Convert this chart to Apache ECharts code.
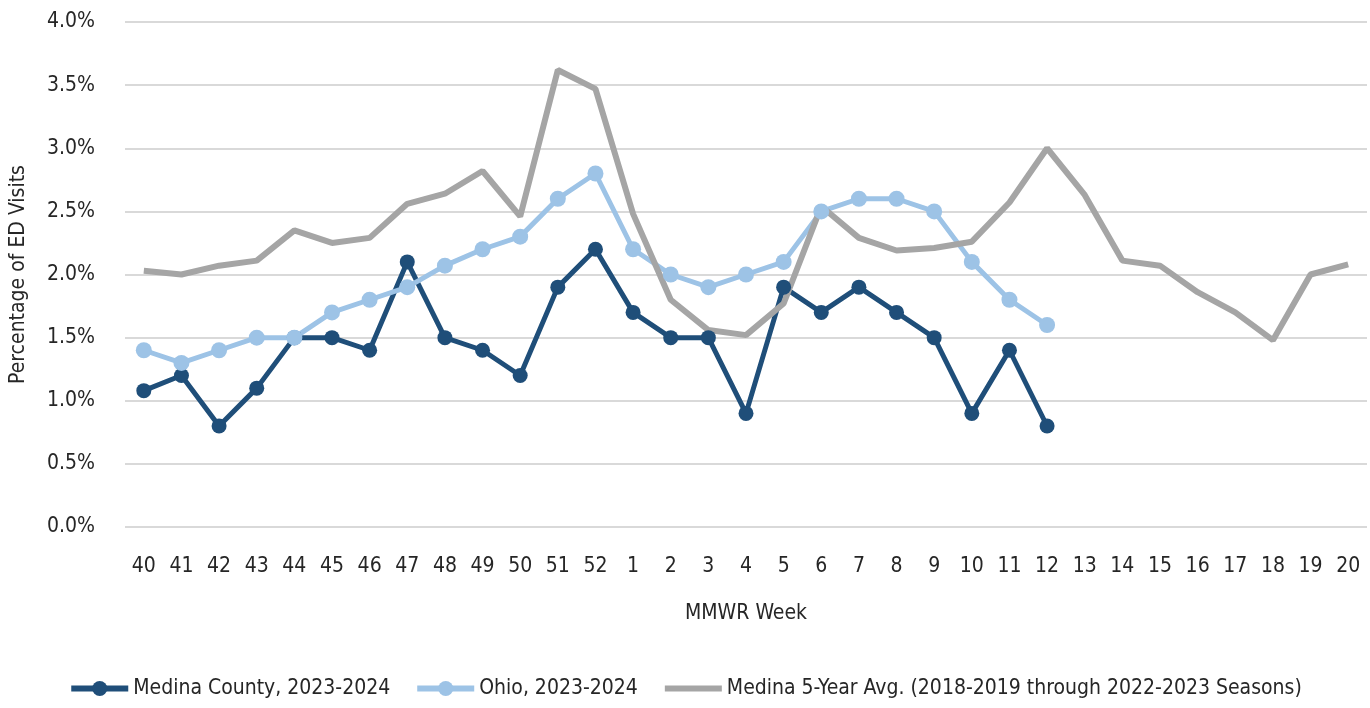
<!DOCTYPE html>
<html><head><meta charset="utf-8">
<script src="https://cdn.jsdelivr.net/npm/echarts@6/dist/echarts.min.js"></script>
<style>html,body{margin:0;padding:0;background:#fff}#c{width:1370px;height:708px}</style>
</head><body><div id="c"></div>
<script>
const weeks = ['40','41','42','43','44','45','46','47','48','49','50','51','52','1','2','3','4','5','6','7','8','9','10','11','12','13','14','15','16','17','18','19','20'];
const medina = [1.08,1.2,0.8,1.1,1.5,1.5,1.4,2.1,1.5,1.4,1.2,1.9,2.2,1.7,1.5,1.5,0.9,1.9,1.7,1.9,1.7,1.5,0.9,1.4,0.8];
const ohio = [1.4,1.3,1.4,1.5,1.5,1.7,1.8,1.9,2.07,2.2,2.3,2.6,2.8,2.2,2.0,1.9,2.0,2.1,2.5,2.6,2.6,2.5,2.1,1.8,1.6];
const avg5 = [2.03,2.0,2.07,2.11,2.35,2.25,2.29,2.56,2.64,2.82,2.46,3.62,3.47,2.48,1.8,1.56,1.52,1.77,2.54,2.29,2.19,2.21,2.26,2.57,3.0,2.63,2.11,2.07,1.86,1.7,1.48,2.0,2.08];
const names = ['Medina County, 2023-2024','Ohio, 2023-2024','Medina 5-Year Avg. (2018-2019 through 2022-2023 Seasons)'];
const colors = ['#1F4E79','#9DC3E6','#A5A5A5'];
const FONT = '"DejaVu Sans Condensed",sans-serif';
const FS = 21;
const chart = echarts.init(document.getElementById('c'));
chart.setOption({
  animation:false,
  textStyle:{fontFamily:FONT,color:'#262626'},
  grid:{left:125,right:3,top:22,bottom:181},
  legend:{bottom:4,left:'center',itemWidth:57,itemHeight:19,itemGap:24,
    textStyle:{fontFamily:FONT,fontSize:FS,color:'#262626'},
    lineStyle:{width:6},
    data:[{name:names[0]},{name:names[1]},{name:names[2],itemStyle:{opacity:0}}]},
  xAxis:{type:'category',data:weeks,boundaryGap:true,
    name:'MMWR Week',nameLocation:'middle',nameGap:76,
    nameTextStyle:{fontFamily:FONT,fontSize:FS,color:'#262626'},
    axisLine:{show:false},axisTick:{show:false},
    axisLabel:{fontFamily:FONT,fontSize:FS,color:'#262626',margin:29,interval:0}},
  yAxis:{type:'value',min:0,max:4,interval:0.5,
    name:'Percentage of ED Visits',nameLocation:'middle',nameGap:96,
    nameTextStyle:{fontFamily:FONT,fontSize:FS,color:'#262626'},
    axisLine:{show:false},axisTick:{show:false},
    axisLabel:{fontFamily:FONT,fontSize:FS,color:'#262626',margin:30,formatter:v=>v.toFixed(1)+'%'},
    splitLine:{lineStyle:{color:'#D9D9D9',width:2}}},
  series:[
    {name:names[0],type:'line',data:medina,color:colors[0],symbol:'circle',symbolSize:15,
      lineStyle:{width:5,color:colors[0]},itemStyle:{color:colors[0]}},
    {name:names[1],type:'line',data:ohio,color:colors[1],symbol:'circle',symbolSize:16,
      lineStyle:{width:5,color:colors[1]},itemStyle:{color:colors[1]}},
    {name:names[2],type:'line',data:avg5,color:colors[2],symbol:'none',showSymbol:false,
      lineStyle:{width:6,color:colors[2]},itemStyle:{color:colors[2]}}
  ]
});
</script></body></html>
